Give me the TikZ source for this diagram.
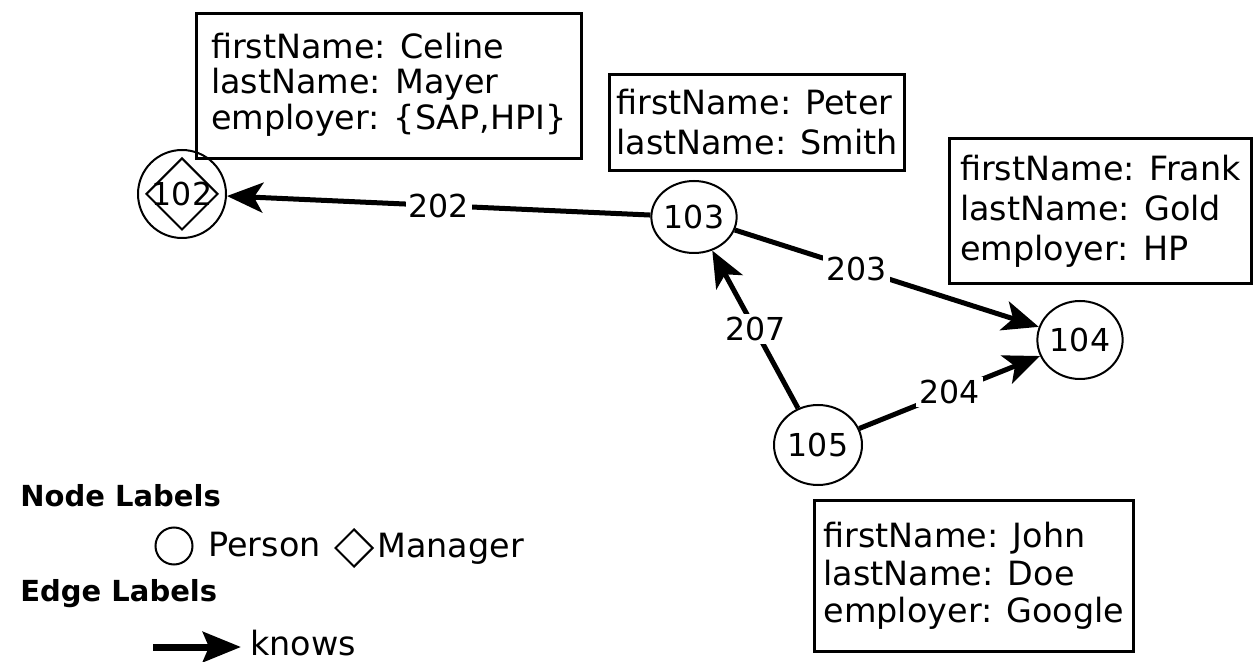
\documentclass[tikz,border=0pt]{standalone}
\usepackage{fontspec}
\setmainfont{DejaVu Sans}
\usetikzlibrary{arrows.meta, shapes.geometric}

\begin{document}
\begin{tikzpicture}[x=0.5pt, y=-0.5pt,
  person/.style={ellipse, draw, line width=1pt, minimum width=42pt, minimum height=39pt, inner sep=0pt, font=\fontsize{15.8}{17}\selectfont},
  manager/.style={diamond, draw, line width=1pt, minimum size=36pt, inner sep=0pt},
  props/.style={draw, line width=1.5pt, anchor=north west, align=left},
  knows/.style={-{Stealth[length=18pt, width=15pt, inset=4.5pt]}, line width=2.5pt},
  elabel/.style={fill=white, inner sep=1.5pt, font=\fontsize{15.8}{17}\selectfont},
  heading/.style={anchor=west, inner sep=0pt, font=\bfseries\fontsize{14.5}{17}\selectfont},
  legendtext/.style={anchor=west, inner sep=0pt, font=\fontsize{16.7}{17}\selectfont}]

\useasboundingbox ( 0, 0 ) rectangle ( 1258, 662 );

% Vertices
\node [person, minimum width=44pt, minimum height=44pt] (p102) at ( 182, 194 ) {102};
\node [manager] (m102) at (p102.center) {};
\node [person, minimum height=36pt] (p103) at ( 694, 217 ) {103};
\node [person] (p104) at ( 1080, 340 ) {104};
\node [person, minimum width=44pt, minimum height=40pt] (p105) at ( 818, 445 ) {105};

% Edges
\draw [knows] (p103) -- node [elabel] {202} (p102);
\draw [knows] (p103) -- node [elabel, pos=0.4] {203} (p104);
\draw [knows] (p105) -- node [elabel] {207} (p103);
\draw [knows] (p105) -- node [elabel] {204} (p104);

% Properties
\node [props, minimum width=192.5pt, minimum height=72.5pt, font=\fontsize{16.7}{17}\selectfont] (celine) at ( 195, 12 )
  {\raisebox{2.5pt}{\begin{tabular}{@{}l@{}}firstName: Celine\\lastName: Mayer\\employer: \{SAP,HPI\}\end{tabular}}};
\node [props, minimum width=147.5pt, minimum height=48pt, font=\fontsize{16.7}{20}\selectfont] (peter) at ( 608, 73 )
  {firstName: Peter\\lastName: Smith};
\node [props, minimum width=151pt, minimum height=72.5pt, font=\fontsize{16.7}{20}\selectfont] (frank) at ( 948, 137 )
  {firstName: Frank\\lastName: Gold\\employer: HP};
\node [props, minimum width=159.5pt, minimum height=75.5pt, font=\fontsize{16.7}{18.8}\selectfont] (john) at ( 813, 499 )
  {firstName: John\\lastName: Doe\\employer: Google};

% Legend
\node [heading] (nodehead) at ( 20, 496 ) {Node Labels};
\node [circle, draw, line width=1pt, minimum size=18.5pt, inner sep=0pt] (lcircle) at ( 174, 546 ) {};
\node [legendtext] (lperson) at ( 208, 545 ) {Person};
\node [diamond, draw, line width=1pt, minimum size=19pt, inner sep=0pt] (ldiamond) at ( 354, 548 ) {};
\node [legendtext] (lmanager) at ( 377, 549 ) {Manager};

\node [heading] (edgehead) at ( 20, 594 ) {Edge Labels};
\coordinate (ltail) at ( 153, 647 );
\coordinate (lhead) at ( 241, 647 );
\draw [-{Stealth[length=19pt, width=15pt, inset=3pt]}, line width=3.5pt] (ltail) -- (lhead);
\node [legendtext] (lknows) at ( 250, 643 ) {knows};

\end{tikzpicture}
\end{document}
